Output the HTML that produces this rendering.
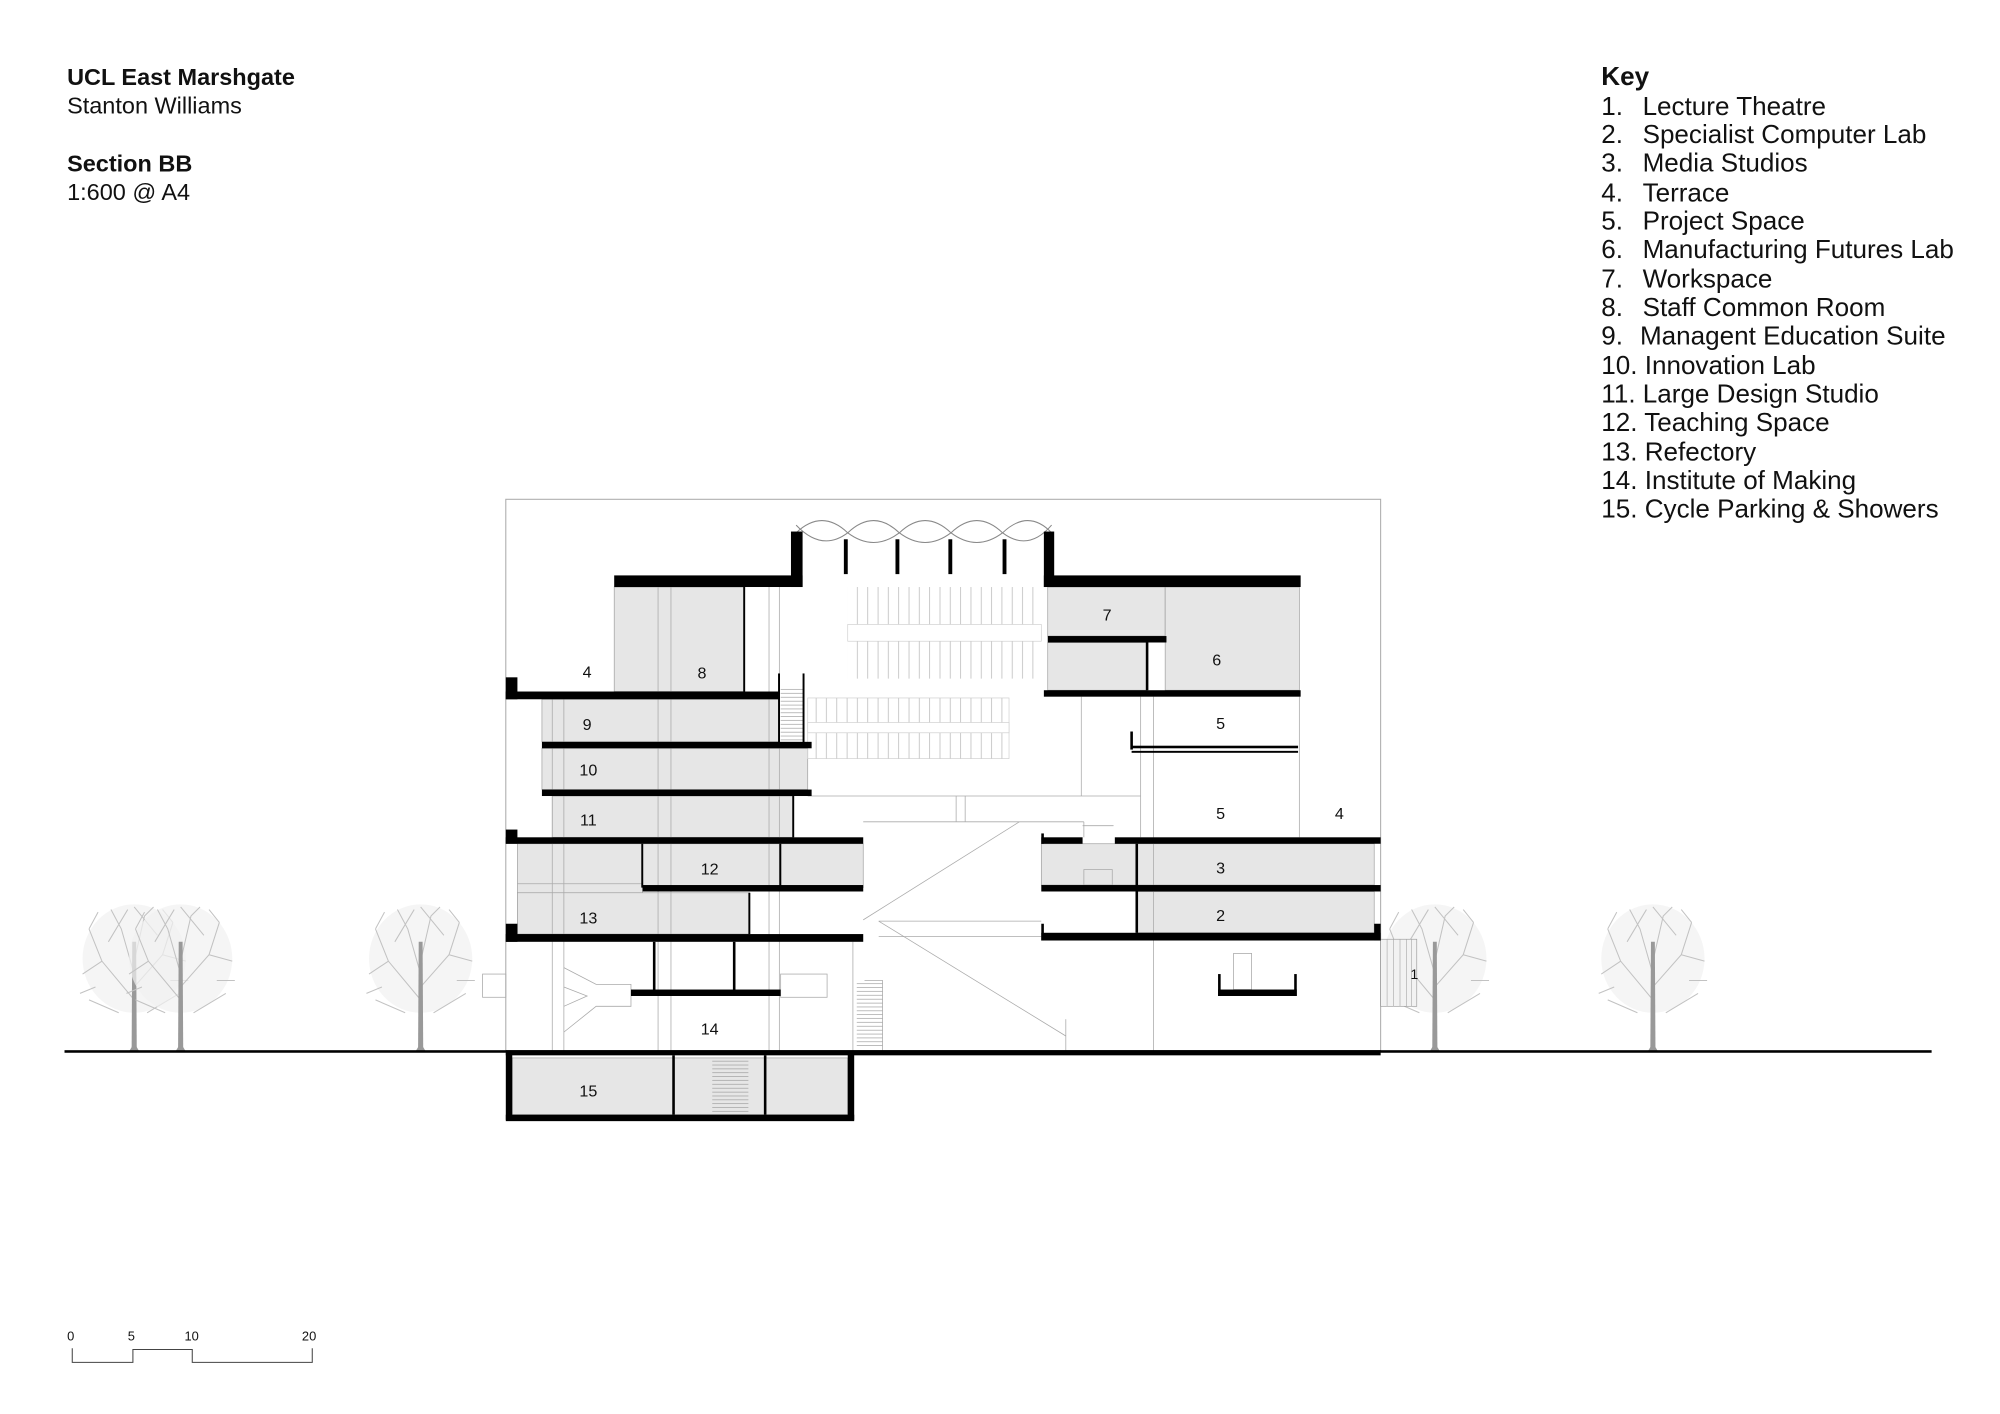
<!DOCTYPE html>
<html><head><meta charset="utf-8"><style>
html,body{margin:0;padding:0;background:#fff;}
svg{display:block;}
text{font-family:"Liberation Sans",sans-serif;fill:#111;}
</style></head><body>
<svg width="2000" height="1414" viewBox="0 0 1550 1096" preserveAspectRatio="none" xmlns="http://www.w3.org/2000/svg">
<defs>
<g id="tree">
  <ellipse cx="0" cy="-72" rx="40" ry="42" fill="#f1f1f1" opacity="0.7"/>
  <g stroke="#c2c2c2" stroke-width="0.8" fill="none">
    <path d="M0,-40 L-25,-70 L-35,-95 M-25,-70 L-40,-60 M0,-50 L22,-75 L30,-100 M22,-75 L40,-70 M0,-60 L-10,-95 L-18,-110 M0,-70 L8,-105 L15,-112 M-12,-30 L-35,-40 M10,-30 L35,-45 M-20,-85 L-5,-110 M18,-90 L0,-112 M-30,-50 L-42,-45 M28,-55 L42,-55 M-35,-95 L-28,-108 M30,-100 L22,-110"/>
  </g>
  <path d="M-2,0 L-1.5,-85 L1.5,-85 L2,0 Z" fill="#999"/>
  <path d="M-4,0 L4,0 L1,-5 L-1,-5 Z" fill="#999"/>
</g>
<pattern id="stV" width="8" height="10" patternUnits="userSpaceOnUse"><line x1="0.5" y1="0" x2="0.5" y2="10" stroke="#bbb" stroke-width="0.6"/></pattern>
<pattern id="stH" width="10" height="3" patternUnits="userSpaceOnUse"><line x1="0" y1="0.5" x2="10" y2="0.5" stroke="#999" stroke-width="0.5"/></pattern>
</defs>

<g font-size="18.2">
<text x="52" y="66" font-weight="bold">UCL East Marshgate</text>
<text x="52" y="88">Stanton Williams</text>
<text x="52" y="133" font-weight="bold">Section BB</text>
<text x="52" y="155">1:600 @ A4</text>
</g>

<g font-size="20.2">
<text x="1241" y="66" font-weight="bold">Key</text>
<text x="1241" y="89">1.</text><text x="1273" y="89">Lecture Theatre</text>
<text x="1241" y="111">2.</text><text x="1273" y="111">Specialist Computer Lab</text>
<text x="1241" y="133">3.</text><text x="1273" y="133">Media Studios</text>
<text x="1241" y="156">4.</text><text x="1273" y="156">Terrace</text>
<text x="1241" y="178">5.</text><text x="1273" y="178">Project Space</text>
<text x="1241" y="200">6.</text><text x="1273" y="200">Manufacturing Futures Lab</text>
<text x="1241" y="223">7.</text><text x="1273" y="223">Workspace</text>
<text x="1241" y="245">8.</text><text x="1273" y="245">Staff Common Room</text>
<text x="1241" y="267">9.</text><text x="1271" y="267">Managent Education Suite</text>
<text x="1241" y="290">10. Innovation Lab</text>
<text x="1241" y="312">11. Large Design Studio</text>
<text x="1241" y="334">12. Teaching Space</text>
<text x="1241" y="357">13. Refectory</text>
<text x="1241" y="379">14. Institute of Making</text>
<text x="1241" y="401">15. Cycle Parking &amp; Showers</text>
</g>

<use href="#tree" x="104" y="815"/>
<use href="#tree" x="140" y="815"/>
<use href="#tree" x="326" y="815"/>
<use href="#tree" x="1112" y="815"/>
<use href="#tree" x="1281" y="815"/>

<rect x="392" y="387" width="678" height="428" fill="#fff" stroke="#aaa" stroke-width="0.8"/>

<g fill="#e6e6e6" stroke="#999" stroke-width="0.5">
<rect x="476" y="455" width="101" height="81"/>
<rect x="420" y="542" width="184" height="33"/>
<rect x="420" y="580" width="206" height="32"/>
<rect x="428" y="617" width="187" height="32"/>
<rect x="401" y="654" width="97" height="70"/>
<rect x="498" y="654" width="171" height="34"/>
<rect x="401" y="692" width="180" height="32"/>
<rect x="812" y="455" width="91" height="38"/>
<rect x="903" y="455" width="104" height="80"/>
<rect x="812" y="498" width="77" height="37"/>
<rect x="807" y="654" width="258" height="32"/>
<rect x="881" y="691" width="184" height="32"/>
<rect x="397" y="820" width="260" height="44"/>
<rect x="1070" y="728" width="28" height="52" fill="#f2f2f2"/>
</g>
<g stroke="#aaa" stroke-width="0.5">
<line x1="1075" y1="728" x2="1075" y2="780"/><line x1="1080" y1="728" x2="1080" y2="780"/><line x1="1085" y1="728" x2="1085" y2="780"/><line x1="1090" y1="728" x2="1090" y2="780"/><line x1="1094" y1="728" x2="1094" y2="780"/>
</g>
<text x="1093" y="759" font-size="11">1</text>

<rect x="657" y="455" width="150" height="71" fill="url(#stV)"/>
<rect x="657" y="484" width="150" height="13" fill="#fff" stroke="#ccc" stroke-width="0.5"/>
<rect x="626" y="541" width="156" height="47" fill="url(#stV)" stroke="#ccc" stroke-width="0.5"/>
<rect x="626" y="560" width="156" height="8" fill="#fff" stroke="#ccc" stroke-width="0.5"/>
<rect x="605" y="532" width="18" height="43" fill="url(#stH)"/>
<rect x="664" y="760" width="20" height="52" fill="url(#stH)"/>
<rect x="552" y="820" width="28" height="44" fill="url(#stH)"/>

<g stroke="#aaa" stroke-width="0.6" fill="none">
<line x1="428" y1="542" x2="428" y2="815"/>
<line x1="437" y1="542" x2="437" y2="815"/>
<line x1="510" y1="455" x2="510" y2="815"/>
<line x1="520" y1="455" x2="520" y2="815"/>
<line x1="596" y1="455" x2="596" y2="815"/>
<line x1="604" y1="455" x2="604" y2="815"/>
<line x1="661" y1="730" x2="661" y2="815"/>
<line x1="401" y1="685" x2="498" y2="685"/>
<line x1="838" y1="540" x2="838" y2="617"/>
<line x1="884" y1="540" x2="884" y2="649"/>
<line x1="894" y1="540" x2="894" y2="815"/>
<line x1="1007" y1="540" x2="1007" y2="649"/>
<line x1="741" y1="617" x2="741" y2="637"/>
<line x1="748" y1="617" x2="748" y2="637"/>
<line x1="626" y1="617" x2="884" y2="617"/>
<line x1="669" y1="637" x2="840" y2="637"/>
<line x1="840" y1="637" x2="840" y2="649"/>
<line x1="790" y1="637" x2="669" y2="713"/>
<line x1="681" y1="714" x2="826" y2="803"/>
<line x1="826" y1="790" x2="826" y2="815"/>
<line x1="681" y1="714" x2="807" y2="714"/>
<line x1="681" y1="726" x2="807" y2="726"/>
<line x1="839" y1="640" x2="863" y2="640"/>
<rect x="840" y="674" width="22" height="12"/>
<rect x="956" y="739" width="14" height="28"/>
<rect x="374" y="755" width="18" height="18"/>
<rect x="605" y="755" width="36" height="18"/>
<path d="M437,750 L462,763 L489,763 L489,780 L462,780 L437,800 M437,765 L455,772 L437,780"/>
<path d="M670,760 L684,760 L684,815"/>
</g>

<g stroke="#888" stroke-width="0.8" fill="none">
<path d="M617,413 Q637,394 657,413 Q677,394 697,413 Q717,394 737,413 Q757,394 777,413 Q797,394 815,413"/>
<path d="M617,407 Q637,428 657,413 Q677,428 697,413 Q717,428 737,413 Q757,428 777,413 Q797,428 815,407"/>
</g>

<g fill="#000">
<rect x="613" y="412" width="9" height="43"/>
<rect x="809" y="412" width="8" height="43"/>
<rect x="654" y="418" width="3" height="27"/>
<rect x="694" y="418" width="3" height="27"/>
<rect x="735" y="418" width="3" height="27"/>
<rect x="777" y="418" width="3" height="27"/>
<rect x="476" y="446" width="146" height="9"/>
<rect x="809" y="446" width="199" height="9"/>
<rect x="576" y="455" width="1.5" height="81"/>
<rect x="392" y="536" width="212" height="6"/>
<rect x="392" y="525" width="9" height="17"/>
<rect x="603" y="522" width="1.5" height="55"/>
<rect x="622" y="522" width="1.5" height="55"/>
<rect x="420" y="575" width="209" height="5"/>
<rect x="420" y="612" width="209" height="5"/>
<rect x="614" y="617" width="1.5" height="32"/>
<rect x="392" y="649" width="277" height="5"/>
<rect x="392" y="643" width="9" height="11"/>
<rect x="497" y="654" width="1.5" height="34"/>
<rect x="604" y="654" width="1.5" height="34"/>
<rect x="498" y="686" width="171" height="5"/>
<rect x="580" y="692" width="1.5" height="32"/>
<rect x="392" y="724" width="277" height="6"/>
<rect x="392" y="716" width="9" height="14"/>
<rect x="506" y="730" width="2" height="38"/>
<rect x="568" y="730" width="2" height="38"/>
<rect x="489" y="767" width="116" height="5"/>
<rect x="812" y="493" width="92" height="5"/>
<rect x="888" y="498" width="2" height="37"/>
<rect x="809" y="535" width="199" height="5"/>
<rect x="876" y="567" width="2" height="14"/>
<rect x="877" y="578" width="129" height="2"/>
<rect x="877" y="582" width="129" height="1.5"/>
<rect x="807" y="649" width="32" height="5"/>
<rect x="807" y="646" width="2" height="8"/>
<rect x="864" y="649" width="206" height="5"/>
<rect x="880" y="654" width="2" height="69"/>
<rect x="807" y="686" width="263" height="5"/>
<rect x="807" y="723" width="263" height="6"/>
<rect x="807" y="716" width="2" height="13"/>
<rect x="1065" y="716" width="5" height="13"/>
<rect x="944" y="767" width="61" height="5"/>
<rect x="944" y="755" width="2" height="17"/>
<rect x="1003" y="755" width="2" height="17"/>
<rect x="50" y="814" width="1447" height="2"/>
<rect x="392" y="814" width="678" height="4"/>
<rect x="392" y="816" width="5" height="52"/>
<rect x="657" y="816" width="5" height="52"/>
<rect x="392" y="864" width="270" height="5"/>
<rect x="521" y="818" width="2" height="46"/>
<rect x="592" y="818" width="2" height="46"/>
</g>

<g font-size="12.5" text-anchor="middle">
<text x="455" y="525">4</text>
<text x="544" y="526">8</text>
<text x="455" y="566">9</text>
<text x="456" y="601">10</text>
<text x="456" y="640">11</text>
<text x="550" y="678">12</text>
<text x="456" y="716">13</text>
<text x="550" y="802">14</text>
<text x="456" y="850">15</text>
<text x="858" y="481">7</text>
<text x="943" y="516">6</text>
<text x="946" y="565">5</text>
<text x="946" y="635">5</text>
<text x="1038" y="635">4</text>
<text x="946" y="677">3</text>
<text x="946" y="714">2</text>
</g>

<g font-size="10">
<text x="52" y="1039">0</text>
<text x="99" y="1039">5</text>
<text x="143" y="1039">10</text>
<text x="234" y="1039">20</text>
</g>
<path d="M56,1045 L56,1056 L103,1056 L103,1046 L149,1046 L149,1056 L242,1056 L242,1045" fill="none" stroke="#444" stroke-width="0.8"/>
</svg>
</body></html>
